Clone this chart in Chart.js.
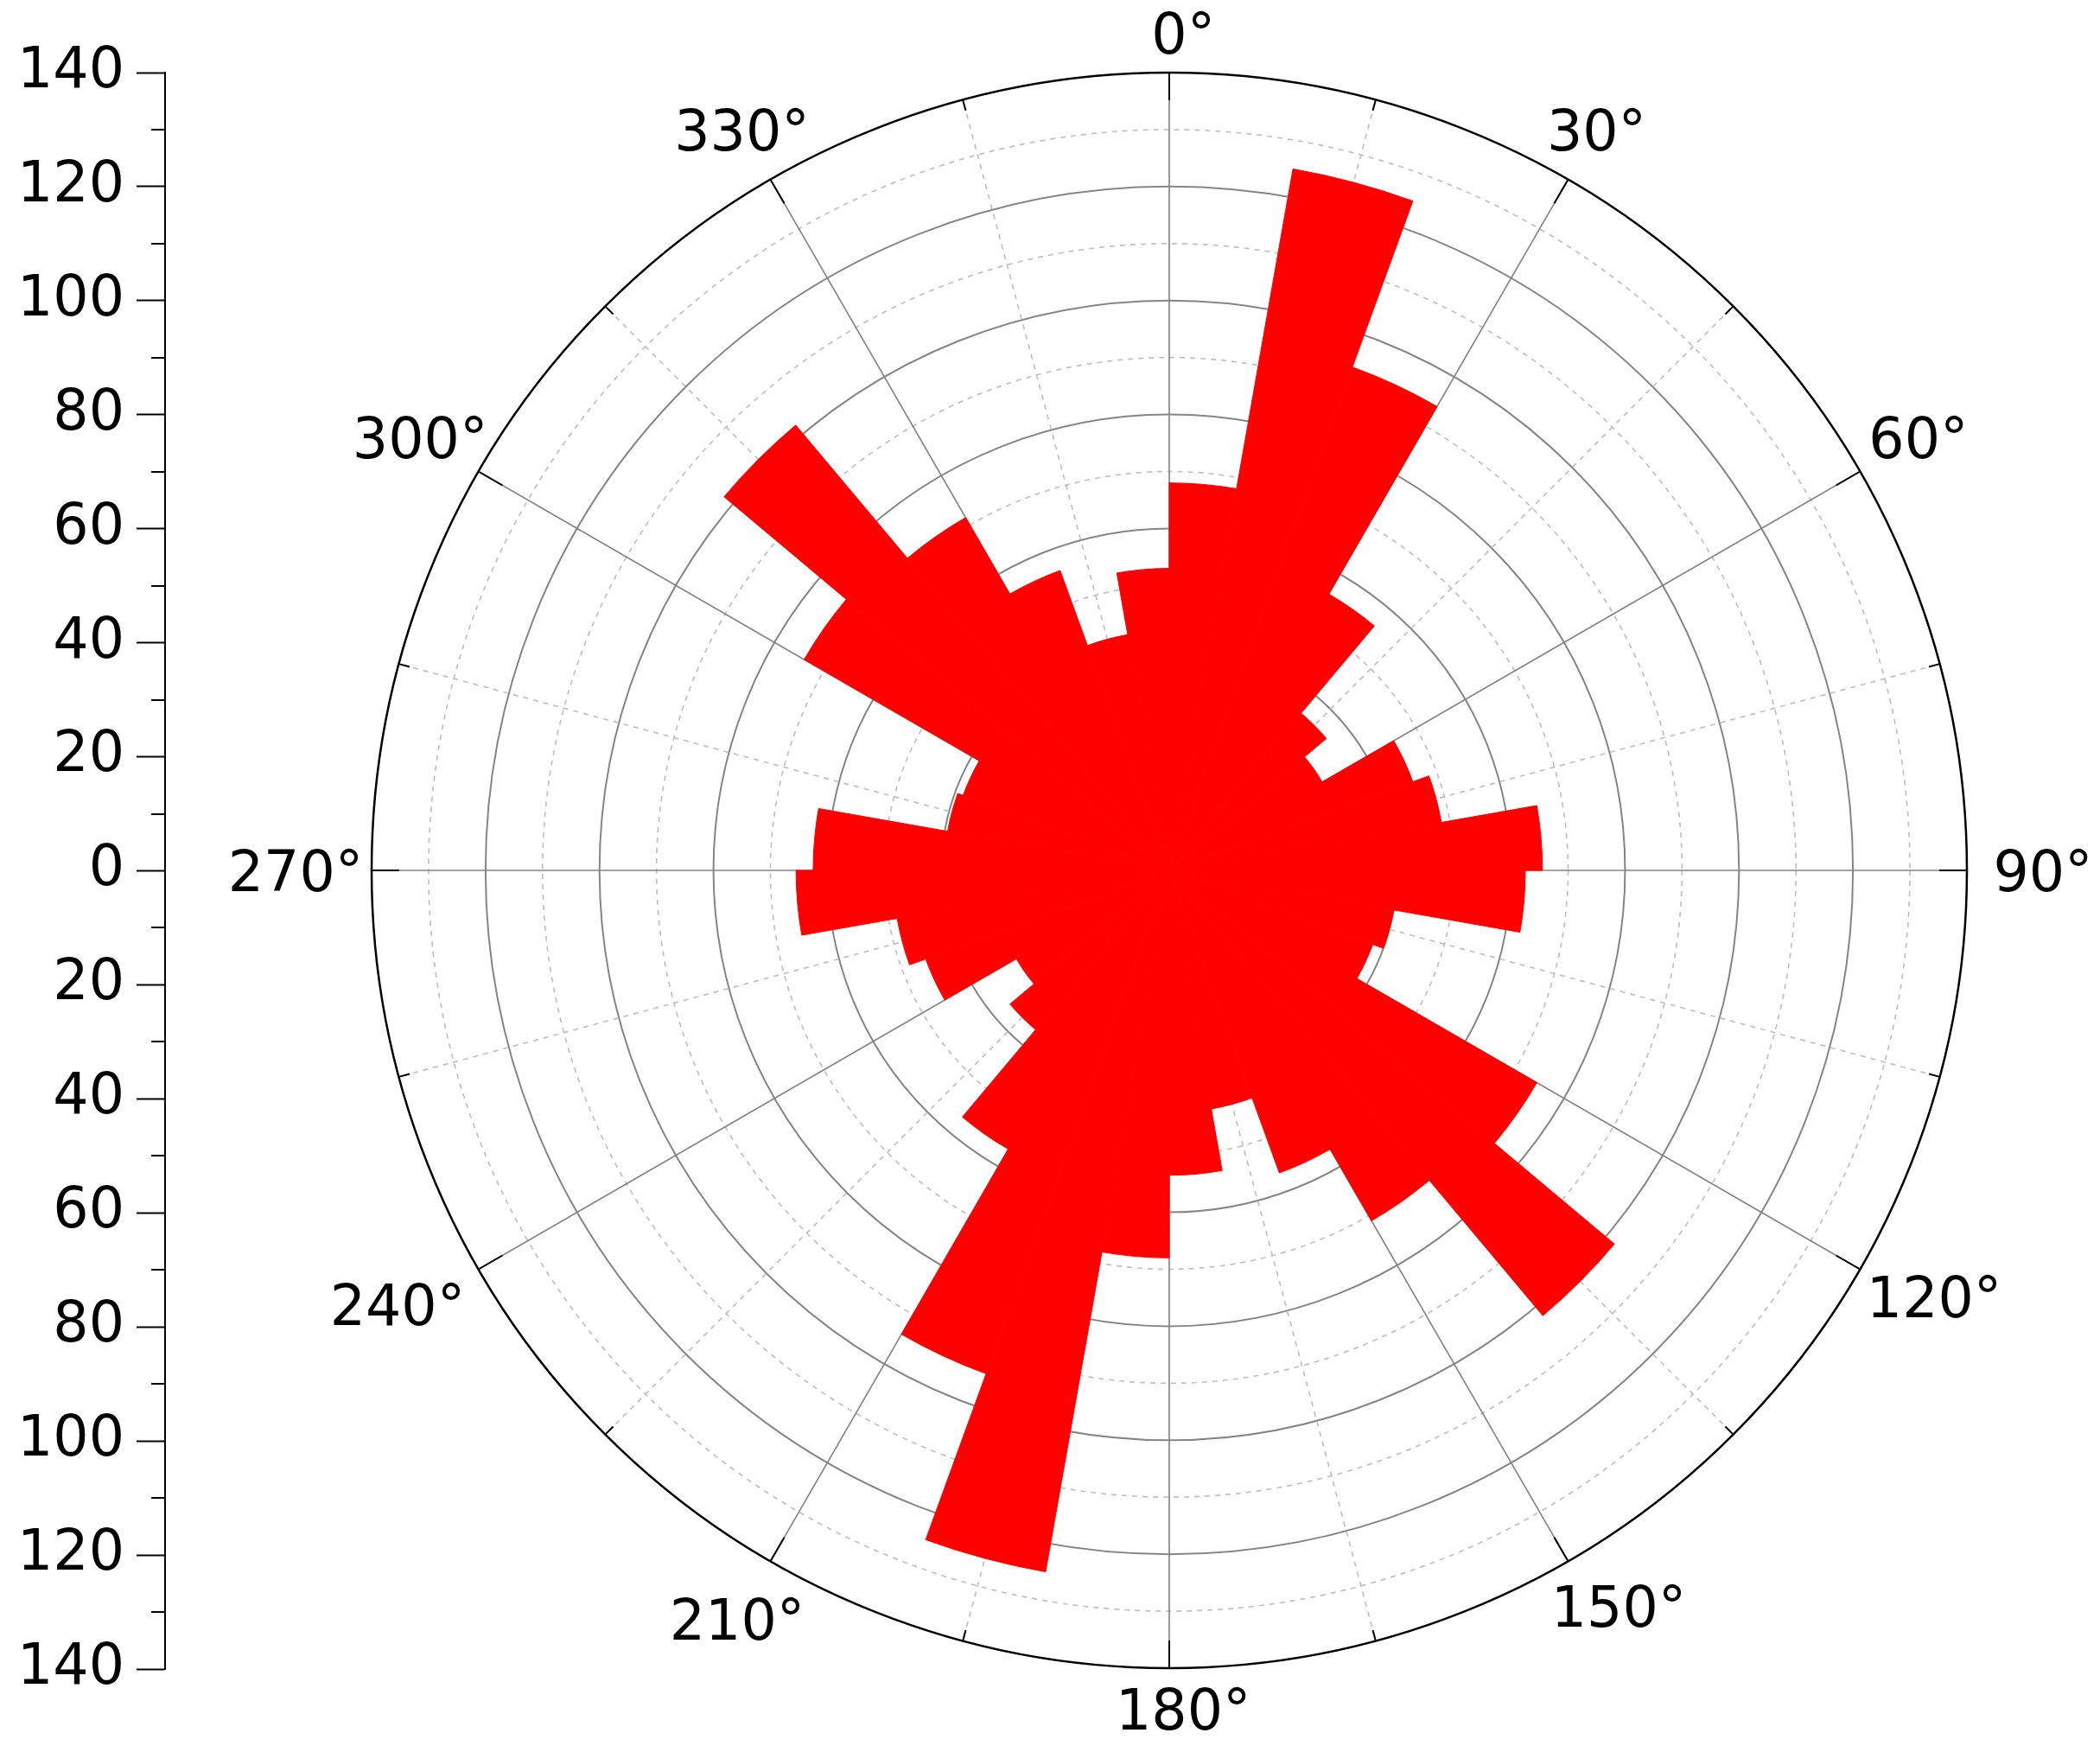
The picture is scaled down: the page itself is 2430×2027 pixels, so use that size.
<!DOCTYPE html>
<html>
<head>
<meta charset="utf-8">
<script src="https://cdn.jsdelivr.net/npm/chart.js@4.4.1/dist/chart.umd.min.js"></script>
<style>
  html, body { margin: 0; padding: 0; background: #ffffff; width: 2430px; height: 2027px; overflow: hidden; }
  #polar { position: absolute; left: 0; top: 0; }
  #axis { position: absolute; left: 0; top: 0; }
</style>
</head>
<body>
<canvas id="polar" width="2430" height="2027"></canvas>
<canvas id="axis" width="240" height="2027"></canvas>
<script>
// ---------- DATA ----------
// direction bins (start angle of each 10° sector, clockwise from north)
const binStarts = [0, 10, 20, 30, 40, 50, 60, 70, 80, 90, 100, 110, 120, 130, 140, 150, 160, 170,
                   180, 190, 200, 210, 220, 230, 240, 250, 260, 270, 280, 290, 300, 310, 320, 330, 340, 350];
// bar length (count) of each sector
const counts = [68, 125, 94, 56, 36, 31, 45.5, 48.5, 65.5, 62.5, 40, 38, 74.5, 102, 71, 56.5, 42.5, 53.5,
                68, 125, 94, 56.5, 36.5, 31, 45.5, 48.5, 65.5, 62.5, 39.5, 38.5, 74, 102, 71.5, 56, 42, 53];
// angular axis labels
const angleLabelValues = [0, 30, 60, 90, 120, 150, 180, 210, 240, 270, 300, 330];
const angleLabelTexts = ['0°', '30°', '60°', '90°', '120°', '150°', '180°', '210°', '240°', '270°', '300°', '330°'];
// radial axis
const radialMin = 0;
const radialMax = 140;
const radialStep = 10;
// left (mirrored) axis
const leftAxisMin = -140;
const leftAxisMax = 140;
const leftAxisStep = 20;

const binLabels = binStarts.map(a => a + '°–' + (a + 10) + '°');

// ---------- STYLE ----------
const FONT = "'DejaVu Sans', 'Liberation Sans', Arial, sans-serif";
const FONT_SIZE = 65;
const RED = '#ff0000';
const GRID_MAJOR = '#858585';
const GRID_MINOR = '#c0c0c0';
// distance (px) of each angle label's centre beyond the outer circle, plus small nudges
const labelOffsets = [46, 66, 78, 88, 99, 77, 47, 77, 99, 88, 78, 66];
const labelNudgeX = [0, 0, 0, 0, 0, 20, 0, 0, -8, 0, 0, 0];
const labelNudgeY = [0, 0, 0, 0, -18, -15, 0, 0, -9, 0, 0, 0];

// ---------- POLAR ROSE ----------
const polarDecor = {
  id: 'polarDecor',
  beforeDatasetsDraw(chart) {
    const s = chart.scales.r;
    const ctx = chart.ctx;
    const cx = s.xCenter, cy = s.yCenter;
    const R = s.getDistanceFromCenterForValue(radialMax);
    ctx.save();
    for (let a = 0; a < 360; a += 15) {
      const t = a * Math.PI / 180;
      const dx = Math.sin(t), dy = -Math.cos(t);
      ctx.beginPath();
      if (a % 30 === 0) {
        ctx.strokeStyle = GRID_MAJOR; ctx.lineWidth = 1.7; ctx.setLineDash([]);
      } else {
        ctx.strokeStyle = GRID_MINOR; ctx.lineWidth = 1.7; ctx.setLineDash([6, 6]);
      }
      ctx.moveTo(cx, cy);
      ctx.lineTo(cx + dx * R, cy + dy * R);
      ctx.stroke();
    }
    ctx.restore();
  },
  afterDatasetsDraw(chart) {
    const s = chart.scales.r;
    const ctx = chart.ctx;
    const cx = s.xCenter, cy = s.yCenter;
    const R = s.getDistanceFromCenterForValue(radialMax);
    ctx.save();
    // ticks on the outer circle
    ctx.strokeStyle = '#000'; ctx.lineWidth = 2; ctx.setLineDash([]);
    for (let a = 0; a < 360; a += 15) {
      const t = a * Math.PI / 180;
      const dx = Math.sin(t), dy = -Math.cos(t);
      const len = (a % 30 === 0) ? 32 : 13;
      ctx.beginPath();
      ctx.moveTo(cx + dx * R, cy + dy * R);
      ctx.lineTo(cx + dx * (R - len), cy + dy * (R - len));
      ctx.stroke();
    }
    // angle labels
    ctx.fillStyle = '#000';
    ctx.font = FONT_SIZE + 'px ' + FONT;
    ctx.textBaseline = 'alphabetic';
    ctx.textAlign = 'left';
    const capH = FONT_SIZE * 0.729;
    angleLabelValues.forEach((a, i) => {
      const txt = angleLabelTexts[i];
      const num = txt.replace('°', '');
      const w = ctx.measureText(txt).width;
      const wn = ctx.measureText(num).width;
      const t = a * Math.PI / 180;
      const dx = Math.sin(t), dy = -Math.cos(t);
      const d = R + labelOffsets[i];
      const px = cx + dx * d + labelNudgeX[i], py = cy + dy * d + labelNudgeY[i];
      const x = (Math.abs(dx) < 0.01) ? px - wn / 2 : px - w / 2;
      ctx.fillText(txt, x, py + capH / 2);
    });
    ctx.restore();
  }
};

new Chart(document.getElementById('polar'), {
  type: 'polarArea',
  data: {
    labels: binLabels,
    datasets: [{
      data: counts,
      backgroundColor: RED,
      borderColor: RED,
      borderWidth: 1
    }]
  },
  options: {
    responsive: false,
    animation: false,
    devicePixelRatio: 1,
    layout: { padding: { left: 430, right: 154, top: 84, bottom: 97 } },
    plugins: { legend: { display: false }, tooltip: { enabled: false } },
    scales: {
      r: {
        min: radialMin,
        max: radialMax,
        startAngle: 0,
        ticks: { display: false, stepSize: radialStep },
        pointLabels: { display: false },
        angleLines: { display: false },
        grid: {
          circular: true,
          color: (c) => {
            const v = c.tick ? c.tick.value : 0;
            if (v === radialMax) return '#000000';
            return (v % 20 === 0) ? GRID_MAJOR : GRID_MINOR;
          },
          lineWidth: (c) => {
            const v = c.tick ? c.tick.value : 0;
            if (v === radialMax) return 2.5;
            return (v % 20 === 0) ? 2 : 1.7;
          }
        },
        border: {
          dash: (c) => {
            const v = c.tick ? c.tick.value : 0;
            return (v % 20 === 0) ? [] : [6, 6];
          }
        }
      }
    }
  },
  plugins: [polarDecor]
});

// ---------- LEFT MIRRORED AXIS ----------
const minorTicks = {
  id: 'minorTicks',
  afterDraw(chart) {
    const s = chart.scales.y;
    const ctx = chart.ctx;
    const x = chart.chartArea.left;
    ctx.save();
    ctx.strokeStyle = '#000'; ctx.lineWidth = 2;
    for (let v = leftAxisMin + leftAxisStep / 2; v < leftAxisMax; v += leftAxisStep) {
      const y = Math.round(s.getPixelForValue(v));
      ctx.beginPath();
      ctx.moveTo(x - 16, y);
      ctx.lineTo(x, y);
      ctx.stroke();
    }
    ctx.restore();
  }
};

new Chart(document.getElementById('axis'), {
  type: 'scatter',
  data: { datasets: [{ data: [] }] },
  options: {
    responsive: false,
    animation: false,
    devicePixelRatio: 1,
    layout: { padding: { top: 84, bottom: 96, left: 0, right: 0 } },
    plugins: { legend: { display: false }, tooltip: { enabled: false } },
    scales: {
      x: { display: false },
      y: {
        position: 'left',
        min: leftAxisMin,
        max: leftAxisMax,
        afterFit: (s) => { s.width = 191; },
        ticks: {
          stepSize: leftAxisStep,
          autoSkip: false,
          color: '#000',
          padding: 14,
          font: { family: FONT, size: FONT_SIZE },
          callback: (v) => String(Math.abs(v))
        },
        grid: { drawOnChartArea: false, drawTicks: true, tickLength: 33, tickWidth: 2, tickColor: '#000' },
        border: { display: true, color: '#000', width: 2 }
      }
    }
  },
  plugins: [minorTicks]
});
</script>
</body>
</html>
